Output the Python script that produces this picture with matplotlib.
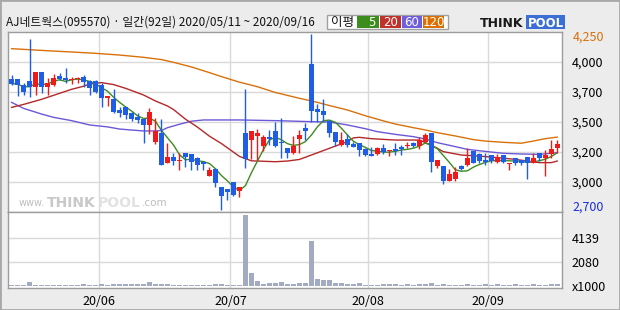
import numpy as np
import pandas as pd
import matplotlib
matplotlib.use("Agg")
import matplotlib.pyplot as plt
from matplotlib.patches import Rectangle

plt.rcParams['font.family'] = ['Noto Sans CJK KR', 'DejaVu Sans']

# daily candles, 2020/05/11 ~ 2020/09/16 (92 trading days)
opens = [3851, 3850, 3800, 3836, 3786, 3913, 3786, 3801, 3880, 3860,
         3845, 3850, 3871, 3839, 3836, 3800, 3690, 3677, 3580, 3604,
         3551, 3516, 3501, 3449, 3302, 3375, 3111, 3170, 3134, 3199,
         3190, 3155, 3125, 3002, 3061, 2902, 2885, 2946, 2870, 3375,
         3316, 3355, 3267, 3340, 3396, 3302, 3249, 3205, 3328, 3425,
         3986, 3590, 3572, 3484, 3384, 3272, 3325, 3281, 3287, 3237,
         3193, 3190, 3243, 3219, 3237, 3258, 3267, 3287, 3267, 3302,
         3381, 3090, 3087, 2958, 2973, 3087, 3093, 3219, 3190, 3140,
         3181, 3120, 3181, 3102, 3155, 3143, 3164, 3117, 3202, 3161,
         3190, 3249]
highs = [3889, 3855, 3815, 4206, 3913, 3913, 3860, 3895, 3904, 3954,
         3875, 3875, 3892, 3845, 3845, 3815, 3704, 3770, 3610, 3610,
         3566, 3551, 3510, 3601, 3507, 3498, 3287, 3205, 3199, 3199,
         3190, 3170, 3131, 3081, 3073, 2902, 2885, 2946, 2899, 3766,
         3396, 3410, 3360, 3404, 3478, 3507, 3249, 3351, 3404, 3469,
         4250, 3634, 3678, 3493, 3384, 3384, 3366, 3302, 3287, 3249,
         3258, 3258, 3281, 3228, 3287, 3272, 3302, 3302, 3346, 3381,
         3381, 3140, 3087, 3058, 3076, 3096, 3243, 3219, 3199, 3199,
         3181, 3190, 3181, 3117, 3155, 3143, 3164, 3199, 3202, 3228,
         3316, 3316]
lows = [3800, 3707, 3713, 3698, 3713, 3727, 3713, 3790, 3845, 3822,
        3810, 3815, 3786, 3713, 3727, 3610, 3616, 3551, 3516, 3498,
        3487, 3470, 3293, 3369, 3278, 3099, 3111, 3099, 3052, 3082,
        3052, 3052, 3052, 3002, 2905, 2700, 2788, 2826, 2817, 3073,
        3149, 3140, 3222, 3272, 3258, 3161, 3161, 3193, 3199, 3316,
        3472, 3478, 3478, 3340, 3266, 3264, 3258, 3252, 3175, 3175,
        3178, 3184, 3193, 3175, 3184, 3184, 3243, 3258, 3234, 3296,
        3037, 3072, 2929, 2958, 2958, 3052, 3087, 3111, 3111, 3096,
        3111, 3111, 3117, 3052, 3096, 3096, 2973, 3117, 3134, 3000,
        3155, 3205]
closes = [3813, 3804, 3740, 3786, 3913, 3786, 3822, 3860, 3854, 3842,
          3854, 3857, 3830, 3777, 3736, 3686, 3704, 3566, 3551, 3537,
          3501, 3493, 3449, 3566, 3396, 3099, 3170, 3131, 3140, 3170,
          3125, 3096, 3102, 3052, 2940, 2826, 2861, 2835, 2899, 3149,
          3396, 3375, 3340, 3322, 3267, 3287, 3205, 3264, 3357, 3399,
          3575, 3566, 3537, 3381, 3302, 3316, 3272, 3258, 3228, 3184,
          3178, 3243, 3214, 3228, 3219, 3237, 3272, 3264, 3316, 3360,
          3125, 3140, 2958, 3017, 3032, 3058, 3158, 3117, 3134, 3125,
          3134, 3164, 3125, 3117, 3117, 3117, 3117, 3155, 3161, 3184,
          3237, 3281]
# volume in thousands
volumes = [84, 84, 84, 336, 84, 84, 84, 84, 84, 84,
           84, 84, 168, 84, 84, 168, 84, 168, 168, 168,
           168, 168, 168, 336, 168, 168, 168, 84, 84, 84,
           84, 84, 84, 84, 168, 168, 84, 84, 84, 6125,
           1175, 420, 168, 252, 252, 336, 168, 168, 252, 252,
           3859, 587, 503, 503, 252, 252, 168, 168, 252, 84,
           84, 84, 168, 168, 168, 84, 168, 84, 168, 168,
           252, 84, 168, 84, 84, 84, 168, 84, 84, 168,
           84, 168, 84, 84, 168, 84, 84, 168, 84, 84,
           168, 168]

# longer moving averages (day index, price)
ma20_idx = [0, 2, 5, 7, 10, 12, 13, 15, 17, 19, 22, 24, 26, 27, 29, 31, 33, 35,
            38, 40, 44, 46, 48, 50, 53, 56, 57, 58, 60, 62, 64, 68, 70, 72, 75,
            78, 81, 84, 86, 88, 90, 91]
ma20_val = [3604, 3630, 3675, 3710, 3763, 3790, 3810, 3822, 3805, 3772, 3713,
            3660, 3616, 3585, 3500, 3430, 3350, 3285, 3172, 3133, 3125, 3131,
            3145, 3184, 3243, 3302, 3335, 3340, 3328, 3322, 3316, 3316, 3272,
            3214, 3184, 3175, 3161, 3146, 3131, 3117, 3117, 3131]
ma60_idx = [0, 2, 5, 7, 10, 13, 16, 18, 22, 24, 25, 26, 28, 30, 32, 38, 44,
            50, 53, 56, 59, 61, 64, 67, 69, 71, 74, 76, 79, 82, 85, 88, 90, 91]
ma60_val = [3648, 3595, 3545, 3516, 3487, 3449, 3432, 3413, 3396, 3396, 3400,
            3425, 3455, 3482, 3493, 3493, 3487, 3478, 3475, 3449, 3416, 3390,
            3366, 3346, 3325, 3293, 3258, 3234, 3216, 3199, 3193, 3190, 3199,
            3205]
ma120_idx = [0, 3, 7, 10, 14, 18, 22, 25, 27, 30, 33, 35, 38, 41, 44, 48, 51,
             53, 56, 59, 62, 64, 67, 69, 71, 74, 77, 79, 82, 85, 87, 89, 91]
ma120_val = [4121, 4112, 4100, 4092, 4080, 4065, 4045, 4025, 4001, 3960, 3910,
             3875, 3826, 3786, 3735, 3684, 3648, 3620, 3581, 3530, 3485, 3457,
             3425, 3405, 3381, 3352, 3320, 3307, 3296, 3288, 3307, 3328, 3342]

month_pos = [14.5, 36.5, 59.5, 79.5]
month_labels = ['20/06', '20/07', '20/08', '20/09']
price_ticks = ['3,000', '3,200', '3,500', '3,700', '4,000']
vol_ticks = [2080, 4139]

RED = '#ef1a1a'
BLUE = '#1f5de6'
GREEN = '#3c8c1e'
MA20_C = '#b5282a'
MA60_C = '#6a58d8'
MA120_C = '#d9700a'
GRID = '#d9d9d9'
FRAME = '#9c9c9c'

W, H = 620, 310


def fx(px):
    return px / W


def fy(py):
    return 1 - py / H


fig = plt.figure(figsize=(6.2, 3.1), dpi=100, facecolor='#ececec')
ax = fig.add_axes([fx(8), fy(212), fx(554), 180 / H])
axv = fig.add_axes([fx(8), fy(288), fx(554), 76 / H], sharex=ax)

x = np.arange(len(closes))
o = np.array(opens)
c = np.array(closes)
cols = np.where(c >= o, RED, BLUE)

ymin, ymax = 2682, 4268
ax.set_ylim(ymin, ymax)
ax.set_xlim(-0.6, 91.8)
grid_y = np.linspace(ymin, ymax, 7)[1:-1]
for gy in grid_y:
    ax.axhline(gy, color=GRID, lw=1, zorder=0)
for mp in month_pos:
    ax.axvline(mp, color=GRID, lw=1, zorder=0)
    axv.axvline(mp, color=GRID, lw=1, zorder=0)

ma5 = pd.Series(closes).rolling(5, min_periods=1).mean()
ax.plot(ma120_idx, ma120_val, color=MA120_C, lw=1, zorder=1)
ax.plot(ma60_idx, ma60_val, color=MA60_C, lw=1, zorder=1)
ax.plot(ma20_idx, ma20_val, color=MA20_C, lw=1, zorder=1)
ax.plot(x, ma5, color=GREEN, lw=1, zorder=1)

ax.vlines(x, lows, highs, colors=cols, lw=1, zorder=2)
ax.bar(x, np.maximum(np.abs(c - o), 9), bottom=np.minimum(o, c), width=0.8,
       color=cols, lw=0, zorder=3)

ax.set_yticks(grid_y)
ax.set_yticklabels(price_ticks)
ax.yaxis.tick_right()
ax.tick_params(axis='y', length=0, pad=7, labelsize=9)
ax.tick_params(axis='x', length=0, labelbottom=False)
ax.text(1.019, 4224, '4,250', color='#d9700a', fontsize=9, va='center',
        transform=ax.get_yaxis_transform())
ax.text(1.019, 2726, '2,700', color='#1a2ee0', fontsize=9, va='center',
        transform=ax.get_yaxis_transform())

axv.bar(x, volumes, width=0.8, color='#a2abc1', lw=0, zorder=2)
axv.set_ylim(-155, 6370)
for vt in vol_ticks:
    axv.axhline(vt, color=GRID, lw=1, zorder=0)
axv.set_yticks(vol_ticks + [0])
axv.set_yticklabels([str(v) for v in vol_ticks] + ['x1000'])
axv.yaxis.tick_right()
axv.tick_params(axis='y', length=0, pad=7, labelsize=9)
axv.set_xticks(month_pos)
axv.set_xticklabels(month_labels)
axv.tick_params(axis='x', length=0, pad=5, labelsize=9)

for a in (ax, axv):
    a.set_facecolor('white')
    for s in a.spines.values():
        s.set_color(FRAME)
        s.set_linewidth(1)

# watermark
fig.text(fx(19), fy(206), 'www.', color='#bdbdbd', fontsize=7, va='baseline',
         family='DejaVu Sans')
fig.text(fx(47), fy(207), 'THINK', color='#c9c9c9', fontsize=10, va='baseline',
         weight='bold', family='DejaVu Sans')
fig.text(fx(98), fy(207), 'POOL', color='#e2e2e2', fontsize=10, va='baseline',
         weight='bold', family='DejaVu Sans')
fig.text(fx(142), fy(206), '.com', color='#bdbdbd', fontsize=7.5, va='baseline',
         family='DejaVu Sans')

# header
fig.text(fx(6), fy(26), 'AJ네트웍스(095570) · 일간(92일) 2020/05/11 ~ 2020/09/16',
         fontsize=8.5, va='baseline', color='#111111')
fig.patches.append(Rectangle((fx(327), fy(29)), fx(121), 14 / H, transform=fig.transFigure,
                             facecolor='white', edgecolor='#a0a0a0', lw=1))
fig.text(fx(342), fy(22.5), '이평', fontsize=9, ha='center', va='center', color='#111111')
boxes = [('5', GREEN, 357, 22), ('20', '#c1302a', 380, 21), ('60', '#6f5fdc', 402, 20),
         ('120', '#dd6f00', 423, 21)]
for lab, col, bx, bw in boxes:
    fig.patches.append(Rectangle((fx(bx), fy(28)), fx(bw), 12 / H,
                                 transform=fig.transFigure, facecolor=col, lw=0))
    fig.text(fx(bx + bw / 2 + (4 if lab == '5' else 0)), fy(22), lab, fontsize=8.5,
             ha='center', va='center', color='white', family='DejaVu Sans')

# logo
fig.patches.append(Rectangle((fx(526), fy(29)), fx(39), 14 / H, transform=fig.transFigure,
                             facecolor='#3b6fd6', lw=0))
fig.text(fx(480), fy(27), 'THINK', fontsize=9, weight='heavy', color='#1a1a1a',
         va='baseline', family='DejaVu Sans')
fig.text(fx(545.5), fy(27), 'POOL', fontsize=8.5, weight='heavy', color='white',
         va='baseline', ha='center', family='DejaVu Sans')

# outer border
fig.patches.append(Rectangle((0, 0), 1, 1, transform=fig.transFigure, fill=False,
                             edgecolor='#a8a8a8', lw=2))

fig.savefig('out.png', dpi=100, facecolor=fig.get_facecolor())
